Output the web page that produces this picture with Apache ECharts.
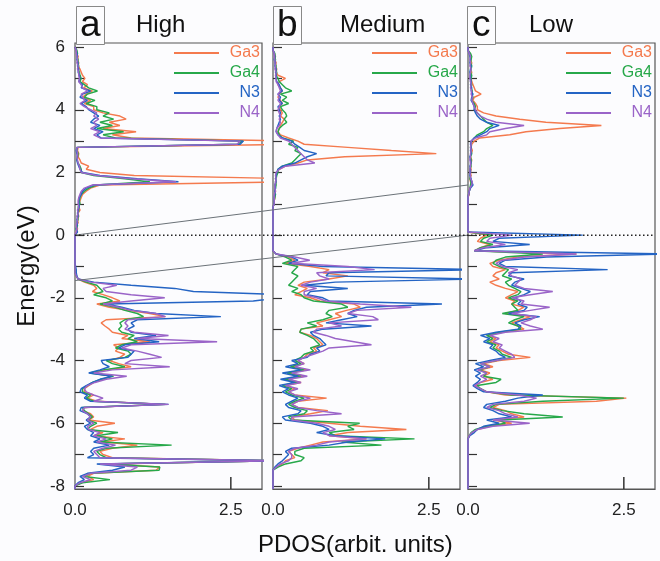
<!DOCTYPE html>
<html><head><meta charset="utf-8">
<script src="https://cdn.jsdelivr.net/npm/echarts@6/dist/echarts.min.js"></script>
<style>html,body{margin:0;padding:0;background:#fcfcfe}#c{width:660px;height:561px}</style>
</head><body><div id="c"></div>
<script>
// Energy grid (eV), top to bottom
const energies = [
6,5.9,5.8,5.7,5.6,5.5,5.4,5.3,5.2,5.1,
5,4.9,4.8,4.7,4.6,4.5,4.4,4.3,4.2,4.1,
4,3.9,3.8,3.7,3.6,3.5,3.4,3.3,3.2,3.1,
3,2.9,2.8,2.7,2.6,2.5,2.4,2.3,2.2,2.1,
2,1.9,1.8,1.7,1.6,1.5,1.4,1.3,1.2,1.1,
1,0.9,0.8,0.7,0.6,0.5,0.4,0.3,0.2,0.1,
0,-0.1,-0.2,-0.3,-0.4,-0.5,-0.6,-0.7,-0.8,-0.9,
-1,-1.1,-1.2,-1.3,-1.4,-1.5,-1.6,-1.7,-1.8,-1.9,
-2,-2.1,-2.2,-2.3,-2.4,-2.5,-2.6,-2.7,-2.8,-2.9,
-3,-3.1,-3.2,-3.3,-3.4,-3.5,-3.6,-3.7,-3.8,-3.9,
-4,-4.1,-4.2,-4.3,-4.4,-4.5,-4.6,-4.7,-4.8,-4.9,
-5,-5.1,-5.2,-5.3,-5.4,-5.5,-5.6,-5.7,-5.8,-5.9,
-6,-6.1,-6.2,-6.3,-6.4,-6.5,-6.6,-6.7,-6.8,-6.9,
-7,-7.1,-7.2,-7.3,-7.4,-7.5,-7.6,-7.7,-7.8,-7.9,
-8,-8.1];

// Panel a (High)
const aGa3 = [
0,0.02,0.03,0.05,0.04,0.06,0.05,0.08,0.1,0.12,
0.16,0.12,0.2,0.14,0.28,0.18,0.12,0.25,0.15,0.3,
0.3,0.45,0.72,0.82,0.55,0.72,0.45,0.98,0.6,0.9,
3.5,3.5,0.05,0.04,0.06,0.05,0.08,0.1,0.22,0.18,
0.4,0.95,3.5,3.5,0.4,0.25,0.18,0.12,0.1,0.08,
0.07,0.06,0.08,0.05,0.06,0.04,0.05,0.03,0.04,0.02,
0,0,0,0,0,0,0,0,0,0,
0,0,0,0.02,0.05,0.15,0.3,0.35,0.28,0.45,
0.6,0.72,0.35,0.55,0.85,1.2,1.45,0.5,0.42,0.48,
0.55,0.6,0.85,0.75,1.2,0.62,0.7,0.65,0.8,0.72,
0.55,0.7,0.9,0.5,0.28,0.6,0.45,0.3,0.22,0.15,
0.15,0.3,0.2,0.35,1.45,0.15,0.12,0.25,0.3,0.22,
0.64,0.35,0.25,0.45,0.3,0.8,0.45,1.0,0.6,0.4,
0.45,0.6,3.3,0.5,1.36,1.3,0.3,0.2,0.3,0.1,
0,0];
const aGa4 = [
0,0.03,0.04,0.03,0.05,0.04,0.06,0.05,0.07,0.08,
0.1,0.08,0.15,0.22,0.36,0.2,0.15,0.32,0.18,0.35,
0.35,0.55,0.45,0.62,0.4,0.6,0.35,0.78,0.45,0.65,
2.7,2.6,0.04,0.03,0.05,0.04,0.03,0.05,0.08,0.1,
0.1,0.3,0.8,1.2,0.35,0.22,0.15,0.1,0.08,0.07,
0.08,0.05,0.06,0.05,0.04,0.05,0.03,0.04,0.02,0.03,
0,0,0,0,0,0,0,0,0,0,
0,0,0,0.02,0.05,0.18,0.35,0.4,0.45,0.3,
0.5,0.6,0.4,0.65,0.8,1.0,1.1,0.8,0.72,0.75,
0.7,0.75,0.95,0.85,1.0,0.75,0.65,0.85,0.9,0.8,
0.5,0.6,0.8,0.45,0.24,0.62,0.42,0.28,0.2,0.12,
0.12,0.25,0.18,0.3,1.45,0.12,0.15,0.22,0.28,0.2,
0.35,0.25,0.2,0.69,0.35,0.6,0.4,1.55,0.5,0.35,
0.4,0.5,3.3,0.45,1.36,1.35,0.25,0.15,0.56,0.12,
0,0];
const aN3 = [
0,0.02,0.03,0.04,0.03,0.05,0.04,0.06,0.05,0.07,
0.08,0.06,0.12,0.1,0.25,0.12,0.08,0.2,0.1,0.18,
0.22,0.3,0.38,0.3,0.25,0.4,0.3,0.45,0.35,0.42,
2.7,2.65,0.03,0.02,0.03,0.04,0.03,0.04,0.06,0.08,
0.12,0.4,1.0,1.66,0.3,0.18,0.12,0.1,0.07,0.06,
0.06,0.07,0.05,0.04,0.05,0.03,0.04,0.03,0.02,0.04,
0,0,0,0,0,0,0,0,0,0,
0.01,0.02,0.02,0.03,0.05,0.3,0.9,1.6,1.9,3.3,
3.3,2.86,0.5,0.75,0.95,1.3,2.34,1.0,0.9,0.95,
0.85,0.9,1.3,0.95,1.35,0.8,0.7,0.95,0.9,0.85,
0.42,0.45,0.55,0.4,0.22,0.6,0.4,0.28,0.18,0.1,
0.08,0.2,0.15,0.25,1.5,0.1,0.08,0.2,0.25,0.18,
0.25,0.15,0.2,0.3,0.25,0.4,0.3,0.55,0.3,0.25,
0.3,0.2,3.3,0.35,0.8,0.6,0.2,0.08,0.15,0.05,
0,0];
const aN4 = [
0,0.02,0.02,0.03,0.04,0.03,0.05,0.04,0.06,0.06,
0.07,0.06,0.1,0.12,0.2,0.1,0.12,0.16,0.08,0.15,
0.25,0.35,0.3,0.38,0.3,0.35,0.25,0.4,0.3,0.4,
2.65,2.6,0.03,0.03,0.04,0.03,0.04,0.05,0.07,0.08,
0.1,0.35,0.9,1.62,0.28,0.15,0.1,0.08,0.06,0.05,
0.05,0.06,0.04,0.05,0.03,0.04,0.03,0.02,0.03,0.02,
0,0,0,0,0,0,0,0,0,0,
0,0,0,0.02,0.05,0.25,0.67,0.45,0.5,0.9,
1.44,0.9,0.45,0.7,0.9,1.3,1.45,0.85,0.8,0.85,
0.8,0.95,1.5,1.0,2.28,0.9,0.75,1.0,1.2,1.39,
0.9,0.8,1.52,0.6,0.3,0.83,0.5,0.32,0.2,0.15,
0.18,0.3,0.45,0.3,1.5,0.15,0.12,0.2,0.25,0.2,
0.3,0.2,0.22,0.4,0.3,0.5,0.35,0.65,0.45,0.3,
0.35,0.4,3.3,0.4,1.0,0.9,0.25,0.12,0.25,0.08,
0,0];

// Panel b (Medium)
const bGa3 = [
0,0,0.02,0.04,0.03,0.05,0.04,0.06,0.05,0.08,
0.2,0.1,0.08,0.12,0.15,0.1,0.08,0.12,0.15,0.1,
0.12,0.15,0.12,0.18,0.15,0.12,0.1,0.08,0.12,0.25,
0.4,0.5,1.2,1.9,2.62,1.15,0.55,0.4,0.2,0.1,
0.06,0.05,0.04,0.05,0.04,0.03,0.04,0.03,0.03,0.02,
0.02,0,0,0,0,0,0,0,0,0,
0,0,0,0,0,0,0.05,0.25,0.35,0.2,
0.6,0.9,0.8,1.2,0.9,0.5,0.4,0.55,0.45,0.35,
0.6,0.75,1.3,1.4,1.18,1.0,1.1,0.9,0.7,0.8,
0.45,0.43,0.6,0.7,0.75,0.8,0.65,0.7,0.55,0.5,
0.4,0.5,0.3,0.55,0.25,0.5,0.2,0.45,0.2,0.35,
0.25,0.35,0.86,0.4,0.3,0.4,0.88,0.6,0.3,0.35,
0.9,1.4,2.14,1.2,0.9,1.5,0.8,0.6,0.4,0.25,
0.3,0.35,0.2,0.15,0.05,0,0,0,0,0,
0,0];
const bGa4 = [
0,0,0.03,0.03,0.04,0.03,0.05,0.04,0.06,0.05,
0.08,0.1,0.15,0.2,0.3,0.12,0.22,0.15,0.25,0.12,
0.15,0.2,0.22,0.18,0.22,0.15,0.1,0.08,0.1,0.15,
0.33,0.25,0.4,0.35,0.45,0.4,0.35,0.3,0.15,0.08,
0.08,0.06,0.05,0.04,0.05,0.04,0.03,0.04,0.03,0.02,
0.02,0,0,0,0,0,0,0,0,0,
0,0,0,0,0,0,0.05,0.2,0.3,0.15,
0.4,0.35,0.3,0.4,0.35,0.3,0.25,0.4,0.3,0.45,
0.5,0.65,1.1,1.2,0.9,0.85,0.95,0.8,0.55,0.7,
0.45,0.43,0.55,0.65,0.7,0.75,0.6,0.65,0.5,0.45,
0.35,0.45,0.28,0.5,0.22,0.45,0.18,0.4,0.15,0.3,
0.2,0.3,0.5,0.35,0.25,0.35,0.55,0.5,0.25,0.3,
1.39,1.2,1.3,0.9,1.0,2.27,1.1,1.74,0.5,0.35,
0.35,0.5,0.45,0.2,0.08,0,0,0,0,0,
0,0];
const bN3 = [
0,0,0.02,0.03,0.02,0.04,0.03,0.05,0.04,0.05,
0.05,0.06,0.1,0.12,0.15,0.08,0.12,0.1,0.15,0.08,
0.1,0.12,0.1,0.12,0.1,0.08,0.06,0.05,0.08,0.15,
0.3,0.35,0.43,0.5,0.7,0.55,0.45,0.35,0.15,0.08,
0.06,0.05,0.04,0.05,0.03,0.04,0.03,0.03,0.02,0.02,
0.02,0,0,0,0,0,0,0,0,0,
0,0,0,0,0,0,0.05,0.3,0.4,0.25,
0.8,3.3,0.9,0.85,3.3,1.0,0.5,1.2,0.6,0.55,
0.8,0.9,2.71,1.5,1.3,1.2,1.35,1.1,0.85,1.58,
0.8,0.6,0.65,0.75,0.8,0.85,0.7,0.75,0.6,0.55,
0.3,0.4,0.2,0.45,0.15,0.4,0.12,0.35,0.1,0.25,
0.15,0.25,0.4,0.3,0.2,0.25,0.45,0.4,0.15,0.2,
0.6,0.8,0.9,0.7,1.0,1.8,1.2,0.9,0.3,0.2,
0.25,0.2,0.15,0.08,0.03,0,0,0,0,0,
0,0];
const bN4 = [
0,0,0.02,0.02,0.03,0.03,0.04,0.03,0.05,0.04,
0.05,0.05,0.08,0.1,0.12,0.08,0.1,0.08,0.12,0.1,
0.08,0.1,0.12,0.1,0.12,0.1,0.06,0.05,0.08,0.12,
0.25,0.3,0.35,0.4,0.45,0.5,0.55,0.67,0.2,0.1,
0.05,0.04,0.05,0.04,0.03,0.03,0.04,0.02,0.02,0.02,
0.02,0,0,0,0,0,0,0,0,0,
0,0,0,0,0,0,0.05,0.35,0.59,0.3,
1.2,1.63,0.7,0.75,0.9,0.6,0.45,0.7,0.5,0.5,
0.7,0.85,1.4,2.22,1.35,1.2,1.6,1.69,0.9,1.1,
0.7,0.65,0.85,1.0,1.3,1.58,0.9,0.8,0.65,0.5,
0.4,0.5,0.35,0.6,0.3,0.55,0.25,0.45,0.2,0.4,
0.25,0.35,0.6,0.4,0.3,0.4,0.7,1.1,0.3,0.3,
0.7,0.9,1.0,0.8,0.9,1.5,0.9,0.7,0.35,0.25,
0.3,0.3,0.25,0.12,0.05,0,0,0,0,0,
0,0];

// Panel c (Low)
const cGa3 = [
0,0,0.03,0.05,0.04,0.06,0.05,0.04,0.06,0.05,
0.05,0.06,0.08,0.1,0.12,0.21,0.1,0.08,0.12,0.15,
0.15,0.25,0.45,0.83,1.25,2.14,1.47,0.93,0.67,0.19,
0.1,0.06,0.05,0.07,0.05,0.04,0.06,0.05,0.04,0.05,
0.04,0.05,0.03,0.04,0.06,0.03,0.02,0.02,0,0,
0,0,0,0,0,0,0,0,0,0,
0.3,0.2,0.15,0.35,0.2,0.1,1.74,0.8,0.5,0.35,
0.4,0.6,0.45,0.4,0.5,0.35,0.45,0.6,0.8,0.7,
0.6,0.75,0.7,0.9,0.8,0.6,1.0,0.85,0.7,0.8,
0.9,0.55,0.3,0.45,0.35,0.5,0.45,0.55,0.65,1.0,
0.5,0.25,0.4,0.2,0.35,0.25,0.4,0.2,0.12,0.2,
0.3,0.6,2.54,2.06,0.5,0.4,0.6,0.7,0.9,0.4,
0.7,0.35,0.15,0.06,0.02,0,0,0,0,0,
0,0,0,0,0,0,0,0,0,0,
0,0];
const cGa4 = [
0,0,0.04,0.06,0.05,0.04,0.06,0.05,0.04,0.06,
0.05,0.04,0.06,0.05,0.07,0.06,0.08,0.06,0.1,0.12,
0.1,0.15,0.2,0.25,0.3,0.4,0.3,0.25,0.15,0.1,
0.06,0.05,0.04,0.05,0.06,0.04,0.05,0.04,0.05,0.03,
0.03,0.04,0.03,0.05,0.04,0.03,0.02,0.01,0,0,
0,0,0,0,0,0,0,0,0,0,
0.4,0.25,0.2,0.4,0.2,0.1,1.2,0.6,0.45,0.4,
0.5,0.65,0.6,0.55,0.7,0.6,0.65,0.75,0.85,0.8,
0.65,0.8,0.7,0.75,0.8,0.55,0.9,0.75,0.65,0.8,
0.85,0.5,0.3,0.4,0.3,0.45,0.4,0.5,0.55,0.7,
0.45,0.2,0.35,0.18,0.3,0.25,0.53,0.45,0.15,0.2,
0.3,0.7,2.5,1.2,0.45,0.35,0.55,0.9,1.52,0.5,
0.6,0.3,0.12,0.05,0.02,0,0,0,0,0,
0,0,0,0,0,0,0,0,0,0,
0,0];
const cN3 = [
0,0,0.02,0.03,0.04,0.03,0.05,0.04,0.03,0.04,
0.04,0.05,0.04,0.06,0.05,0.08,0.06,0.05,0.08,0.1,
0.1,0.12,0.15,0.2,0.3,0.5,0.35,0.3,0.2,0.1,
0.05,0.04,0.05,0.04,0.05,0.03,0.04,0.05,0.03,0.04,
0.04,0.03,0.05,0.06,0.08,0.04,0.02,0.01,0,0,
0,0,0,0,0,0,0,0,0,0,
1.84,0.5,0.4,0.99,0.3,0.1,3.3,1.26,0.6,0.5,
0.6,2.24,0.7,0.65,0.9,0.75,0.7,0.85,1.0,0.9,
0.75,0.85,0.8,0.95,0.9,0.65,1.15,0.9,0.75,0.85,
0.8,0.45,0.2,0.35,0.25,0.4,0.35,0.45,0.5,0.6,
0.35,0.12,0.25,0.1,0.2,0.12,0.2,0.15,0.08,0.15,
0.25,1.2,0.8,0.6,0.3,0.25,0.4,0.5,0.7,0.3,
0.5,0.25,0.15,0.1,0.03,0,0,0,0,0,
0,0,0,0,0,0,0,0,0,0,
0,0];
const cN4 = [
0,0,0.02,0.04,0.03,0.04,0.03,0.05,0.04,0.03,
0.03,0.04,0.05,0.04,0.06,0.05,0.07,0.06,0.08,0.1,
0.12,0.15,0.2,0.3,0.45,0.9,0.6,0.35,0.3,0.12,
0.05,0.05,0.04,0.05,0.04,0.04,0.03,0.04,0.04,0.03,
0.03,0.04,0.04,0.07,0.06,0.03,0.02,0.01,0,0,
0,0,0,0,0,0,0,0,0,0,
0.7,0.35,0.3,0.6,0.25,0.1,1.74,0.9,0.55,0.45,
0.55,0.8,0.65,0.7,0.85,0.8,0.75,0.9,1.36,1.0,
0.7,0.9,0.85,1.31,1.0,0.7,1.1,1.0,0.85,1.0,
1.2,0.6,0.35,0.5,0.4,0.55,0.5,0.6,0.7,0.75,
0.45,0.2,0.35,0.15,0.3,0.2,0.3,0.2,0.1,0.2,
0.3,0.8,1.1,0.9,0.4,0.3,0.5,0.6,0.8,0.4,
0.99,0.4,0.15,0.06,0.02,0,0,0,0,0,
0,0,0,0,0,0,0,0,0,0,
0,0];

const panelLetters = ['a','b','c'];
const panelNames = ['High','Medium','Low'];
const seriesNames = ['Ga3','Ga4','N3','N4'];
const seriesColors = ['#f47a4e','#27a84a','#2464c4','#9a64c8'];
const panels = [[aGa3,aGa4,aN3,aN4],[bGa3,bGa4,bN3,bN4],[cGa3,cGa4,cN3,cN4]];
const xMin = 0, xMax = 3, xStep = 2.5;
const xTickValues = [2.5];
const yMin = -8.1, yMax = 6.13;
const yTickValues = [-8,-7,-6,-5,-4,-3,-2,-1,0,1,2,3,4,5,6];
const yLabelValues = [-8,-6,-4,-2,0,2,4,6];
const fermiLevel = 0;
// band edge connectors: [energy in panel a, energy in panel c]
const bandLinks = [[0, 1.6], [-1.45, 0]];

const FONT = 'Liberation Sans, Arial, Helvetica, sans-serif';
const gridLefts = [75, 273, 468];
const legendLefts = [174, 372, 566];
const letterLefts = [76, 273, 467];
const nameLefts = [136, 340, 529];

const grids = gridLefts.map(l => ({left:l, top:43, width:187, height:446, show:true,
  borderColor:'#555', borderWidth:1.2, backgroundColor:'transparent'}));

const xAxes = gridLefts.map((l,gi) => ({type:'value', gridIndex:gi, min:xMin, max:xMax, interval:xStep, position:'bottom',
  axisLine:{show:true, onZero:false, lineStyle:{color:'#555', width:1.2}}, splitLine:{show:false},
  axisTick:{show:false},
  axisLabel:{showMaxLabel:false, formatter:v=>(v===xMax?'':Number(v).toFixed(1)), fontSize:17, color:'#222', fontFamily:FONT, margin:13},
}));
const yAxes = gridLefts.map((l,gi) => ({type:'value', gridIndex:gi, min:yMin, max:yMax, position:'left',
  axisLine:{show:false, onZero:false}, splitLine:{show:false},
  axisTick:{show:true, inside:true, length:9, customValues:yTickValues, lineStyle:{color:'#333', width:1.2}},
  axisLabel:{show:gi===0, customValues:yLabelValues, fontSize:17, color:'#222', fontFamily:FONT, margin:10},
  name: gi===0 ? 'Energy(eV)' : '', nameLocation:'middle', nameGap:36,
  nameTextStyle:{fontSize:24, color:'#111', fontFamily:FONT}
}));

const series = [];
panels.forEach((set, gi) => set.forEach((vals, si) => {
  series.push({type:'line', name:seriesNames[si], xAxisIndex:gi, yAxisIndex:gi,
    data: vals.map((v,i)=>[v, energies[i]]), showSymbol:false, symbol:'none', clip:true,
    lineStyle:{width:1.45, color:seriesColors[si]}, itemStyle:{color:seriesColors[si]}, z:2+si});
}));

const rich = {};
seriesNames.forEach((n,si)=>{ rich[n] = {color:seriesColors[si], width:36, align:'right', fontSize:16, lineHeight:16, fontFamily:FONT}; });
const legends = legendLefts.map(l => ({left:l, top:45, orient:'vertical', icon:'rect', itemWidth:45, itemHeight:2,
  itemGap:4, selectedMode:false, padding:0, data:seriesNames,
  formatter: n => '{'+n+'|'+n+'}', textStyle:{fontSize:16, fontFamily:FONT, rich:rich}}));

const titles = [];
panelLetters.forEach((t,gi)=>{
  titles.push({text:t, left:letterLefts[gi], top:8, padding:[1,t==='c'?5:4,0,t==='c'?5:4], borderColor:'#888', borderWidth:1,
    backgroundColor:'#fcfcfe', textStyle:{fontSize:37, lineHeight:34, fontWeight:'normal', color:'#111', fontFamily:FONT}});
  titles.push({text:panelNames[gi], left:nameLefts[gi], top:13, padding:0,
    textStyle:{fontSize:24, lineHeight:24, fontWeight:'normal', color:'#111', fontFamily:FONT}});
});
titles.push({text:'PDOS(arbit. units)', left:258, top:532, padding:0,
  textStyle:{fontSize:24, lineHeight:26, fontWeight:'normal', color:'#111', fontFamily:FONT}});

const chart = echarts.init(document.getElementById('c'), null, {renderer:'canvas'});
chart.setOption({
  animation:false, backgroundColor:'#fcfcfe', color:seriesColors,
  title:titles, legend:legends, grid:grids, xAxis:xAxes, yAxis:yAxes, series:series
});

const px = (gi, x, e) => chart.convertToPixel({gridIndex:gi}, [x, e]);
const f0 = px(0, 0, fermiLevel), f1 = px(2, xMax, fermiLevel);
const graphics = [{type:'line', z:20, shape:{x1:f0[0], y1:f0[1], x2:f1[0], y2:f1[1]},
  style:{stroke:'#222', lineWidth:1.5, lineDash:[1.5,2.5]}}];
bandLinks.forEach(([ea, ec]) => {
  const p0 = px(0, 0, ea), p1 = px(2, 0, ec);
  graphics.push({type:'line', z:19, shape:{x1:p0[0], y1:p0[1], x2:p1[0], y2:p1[1]},
    style:{stroke:'#6b7278', lineWidth:1}});
});
// x-axis inward ticks, placed through each grid's scale
gridLefts.forEach((l, gi) => xTickValues.forEach(v => {
  const p = px(gi, v, yMin);
  graphics.push({type:'line', z:21, shape:{x1:p[0], y1:p[1], x2:p[0], y2:p[1]-12},
    style:{stroke:'#333', lineWidth:1.5}});
}));
chart.setOption({graphic:graphics});
</script></body></html>
